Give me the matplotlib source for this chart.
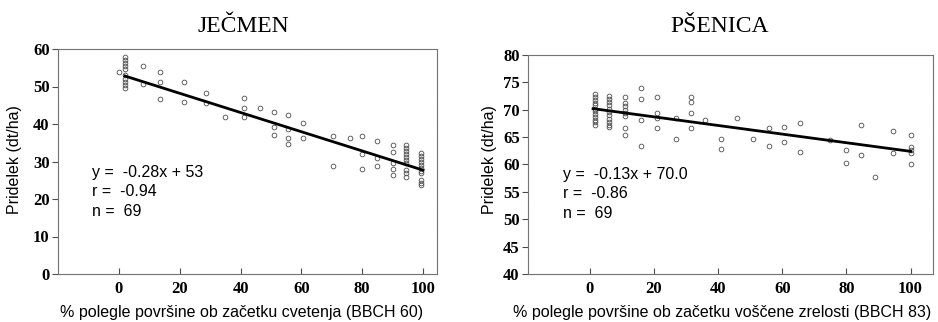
import matplotlib.pyplot as plt
import numpy as np

# JEČMEN (barley) - % lodged area at flowering vs yield
jecmen_x = [0, 2, 2, 2, 2, 2, 2, 2, 2, 2, 2,
            8, 8, 13.5, 13.5, 13.5, 21.5, 21.5, 28.5, 28.5, 35,
            41, 41, 41, 46.5, 51, 51, 51, 55.5, 55.5, 55.5, 55.5,
            60.5, 60.5, 70.5, 70.5, 76, 80, 80, 80, 85, 85, 85,
            90, 90, 90, 90, 90,
            94.5, 94.5, 94.5, 94.5, 94.5, 94.5, 94.5, 94.5, 94.5, 94.5,
            99.5, 99.5, 99.5, 99.5, 99.5, 99.5, 99.5, 99.5, 99.5, 99.5, 99.5]
jecmen_y = [53.9, 58.0, 57.2, 56.4, 55.6, 54.8, 53.2, 52.0, 51.2, 50.4, 49.6,
            55.6, 50.6, 54.0, 51.1, 46.7, 51.2, 46.0, 48.4, 45.5, 41.8,
            46.9, 44.4, 42.0, 44.4, 43.1, 39.3, 37.2, 42.4, 38.6, 36.2, 34.7,
            40.3, 36.4, 36.8, 28.7, 36.4, 36.8, 32.1, 28.0, 35.6, 30.9, 28.9,
            34.4, 32.5, 29.7, 28.0, 26.3,
            34.4, 33.6, 32.9, 32.1, 31.3, 30.5, 29.5, 27.8, 26.9, 26.0,
            32.2, 31.5, 30.8, 30.0, 29.2, 28.4, 27.6, 27.0, 25.1, 24.4, 23.7]
# regression line as drawn in the figure (end points)
jecmen_line_x = [2, 100]
jecmen_line_y = [52.8, 27.7]
jecmen_text = ["y =  -0.28x + 53", "r =  -0.94", "n =  69"]

# PŠENICA (wheat) - % lodged area at waxy ripeness vs yield
psenica_x = [1.5] * 12 + [6] * 11 + [11] * 8 + [16] * 4 + [21] * 4 + [27] * 2 + \
            [31.5] * 4 + [36] + [41] * 2 + [46] + [51] + [56] * 2 + [60.5] * 2 + \
            [65.5] * 2 + [75] + [80] * 2 + [84.5] * 2 + [89] + [94.5] * 2 + [100] * 5
psenica_y = [72.8, 72.3, 71.8, 71.3, 70.8, 70.2, 69.7, 69.2, 68.7, 68.2, 67.7, 67.2,
             72.6, 72.0, 71.4, 70.8, 70.2, 69.6, 69.0, 68.4, 67.8, 67.2, 66.8,
             72.3, 71.2, 70.6, 70.0, 69.4, 68.8, 66.6, 65.4,
             74.0, 72.0, 68.2, 63.3,
             72.3, 69.4, 68.5, 66.6,
             68.5, 64.7,
             72.3, 71.4, 69.4, 66.6,
             68.2,
             64.7, 62.9,
             68.5,
             64.7,
             66.6, 63.3,
             66.9, 64.2,
             67.5, 62.3,
             64.5,
             62.6, 60.3,
             67.2, 61.7,
             57.8,
             66.2, 62.1,
             65.4, 63.2, 62.7, 62.1, 60.1]
psenica_line_x = [1, 100]
psenica_line_y = [70.2, 62.4]
psenica_text = ["y =  -0.13x + 70.0", "r =  -0.86", "n =  69"]

W, H = 938, 322
fig = plt.figure(figsize=(W / 100, H / 100), dpi=100)

serif = ['Liberation Serif', 'DejaVu Serif']
sans = ['Liberation Sans', 'DejaVu Sans']


def panel(rect, xs, ys, lx, ly, lines, title, xlabel, ylim, yticks, xlim,
          title_x, xlabel_x, ylabel_x, text_xy):
    ax = fig.add_axes(rect)
    ax.plot(xs, ys, 'o', ms=3.4, mfc='none', mec='0.3', mew=0.6, zorder=2)
    ax.plot(lx, ly, color='black', lw=2.0, zorder=3)
    ax.set_xlim(*xlim)
    ax.set_ylim(*ylim)
    ax.set_xticks([0, 20, 40, 60, 80, 100])
    ax.set_yticks(yticks)
    for sp in ax.spines.values():
        sp.set_color('0.45')
        sp.set_linewidth(0.8)
        sp.set_linestyle((0, (2, 0.6)))
    ax.tick_params(axis='y', direction='out', length=4, width=0.8, color='0.3',
                   labelsize=12, pad=2)
    ax.tick_params(axis='x', direction='in', length=4, width=0.8, color='0.3',
                   labelsize=12, pad=5)
    for lab in ax.get_xticklabels() + ax.get_yticklabels():
        lab.set_family(serif)
        lab.set_fontweight('bold')
    fig.text(title_x / W, 1 - 27 / H, title, family=serif,
             fontsize=17, ha='center', va='center')
    fig.text(ylabel_x / W, 1 - 160 / H, 'Pridelek (dt/ha)', family=sans,
             fontsize=11.5, rotation=90, ha='center', va='center')
    fig.text(xlabel_x / W, 1 - 312 / H, xlabel, family=sans,
             fontsize=11.5, ha='center', va='center')
    for i, t in enumerate(lines):
        fig.text(text_xy[0] / W, 1 - (text_xy[1] + 19 * i) / H, t, family=sans,
                 fontsize=11.5, ha='left', va='center')
    return ax


panel([58 / W, 48 / H, 379 / W, 225 / H], jecmen_x, jecmen_y,
      jecmen_line_x, jecmen_line_y, jecmen_text,
      'JEČMEN', '% polegle površine ob začetku cvetenja (BBCH 60)',
      (0, 60), [0, 10, 20, 30, 40, 50, 60], (-20, 104.6),
      243, 242, 15, (92, 173))

panel([528 / W, 48 / H, 405 / W, 219 / H], psenica_x, psenica_y,
      psenica_line_x, psenica_line_y, psenica_text,
      'PŠENICA', '% polegle površine ob začetku voščene zrelosti (BBCH 83)',
      (40, 80), [40, 45, 50, 55, 60, 65, 70, 75, 80], (-19.3, 107),
      720, 722, 489, (563, 175))

fig.savefig('out.png', dpi=100)
